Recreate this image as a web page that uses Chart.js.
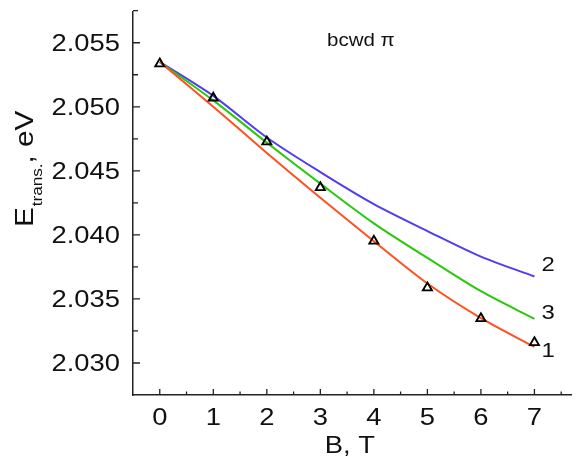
<!DOCTYPE html>
<html lang="en">

<head>
    <meta charset="UTF-8">
    <title>bcwd pi transition energy</title>
    <script src="https://cdn.jsdelivr.net/npm/chart.js"></script>
    <style>
        body { margin: 0; background: #fff; }
    </style>
</head>

<body>
    <canvas id="myChart" width="579" height="456"></canvas>

    <script>
        // magnetic field, T
        const fieldB = [0, 1, 2, 3, 4, 5, 6, 7];
        // experiment (triangles)
        const expPoints = [2.05336, 2.05069, 2.04727, 2.04370, 2.03952, 2.03587, 2.03347, 2.03160];
        // calculated curves 1, 2, 3
        const curve1 = [2.05350, 2.05000, 2.04640, 2.04290, 2.03950, 2.03620, 2.03350, 2.03125];
        const curve2 = [2.05350, 2.05085, 2.04760, 2.04490, 2.04240, 2.04030, 2.03830, 2.03675];
        const curve3 = [2.05350, 2.05050, 2.04720, 2.04400, 2.04090, 2.03820, 2.03560, 2.03345];
        const curveLabels = ['1', '2', '3'];

        const yTicks = [2.030, 2.035, 2.040, 2.045, 2.050, 2.055];
        const xTicks = [0, 1, 2, 3, 4, 5, 6, 7];

        const FONT = '"Liberation Sans", Arial, sans-serif';
        const STRETCH = 1.14; // the original lettering is a bit wide

        function pts(ys) {
            return fieldB.map((b, i) => ({ x: b, y: ys[i] }));
        }

        function curveSet(ys, color) {
            return {
                data: pts(ys),
                borderColor: color,
                borderWidth: 2,
                pointRadius: 0,
                tension: 0.3,
                fill: false
            };
        }

        // text drawn a little wider than the font
        function wideText(ctx, txt, x, y, align) {
            let w = ctx.measureText(txt).width * STRETCH;
            let x0 = x;
            if (align === 'center') x0 = x - w / 2;
            if (align === 'right') x0 = x - w;
            ctx.save();
            ctx.translate(x0, y);
            ctx.scale(STRETCH, 1);
            ctx.textAlign = 'left';
            ctx.fillText(txt, 0, 0);
            ctx.restore();
            return w;
        }

        // inward ticks, tick labels, axis titles and the curve numbers
        const extras = {
            id: 'extras',
            afterDraw: (chart) => {
                const ctx = chart.ctx;
                const xs = chart.scales.x;
                const ys = chart.scales.y;
                const area = chart.chartArea;
                ctx.save();
                ctx.strokeStyle = '#222';
                ctx.lineWidth = 1.3;
                ctx.beginPath();
                yTicks.forEach((v) => {
                    let p = ys.getPixelForValue(v);
                    ctx.moveTo(area.left, p);
                    ctx.lineTo(area.left + 7, p);
                    let m = ys.getPixelForValue(v + 0.0025);
                    ctx.moveTo(area.left, m);
                    ctx.lineTo(area.left + 5, m);
                });
                xTicks.forEach((v) => {
                    let p = xs.getPixelForValue(v);
                    ctx.moveTo(p, area.bottom);
                    ctx.lineTo(p, area.bottom - 6);
                    let m = xs.getPixelForValue(v + 0.5);
                    ctx.moveTo(m, area.bottom);
                    ctx.lineTo(m, area.bottom - 3.5);
                });
                ctx.stroke();

                ctx.fillStyle = '#111';
                ctx.textBaseline = 'alphabetic';

                // tick labels
                ctx.font = '24px ' + FONT;
                yTicks.forEach((v) => {
                    wideText(ctx, v.toFixed(3), area.left - 13, ys.getPixelForValue(v) + 8.5, 'right');
                });
                xTicks.forEach((v) => {
                    wideText(ctx, String(v), xs.getPixelForValue(v), area.bottom + 30, 'center');
                });

                // x title
                ctx.font = '24px ' + FONT;
                wideText(ctx, 'B, T', xs.getPixelForValue(3.55), 453, 'center');

                // y title with subscript
                ctx.save();
                ctx.translate(33, 227);
                ctx.rotate(-Math.PI / 2);
                ctx.font = '26px ' + FONT;
                let w = wideText(ctx, 'E', 0, 0, 'left');
                ctx.font = '15px ' + FONT;
                w += 1;
                w += wideText(ctx, 'trans.', w, 9, 'left');
                ctx.font = '26px ' + FONT;
                wideText(ctx, ', eV', w, 0, 'left');
                ctx.restore();

                // label inside plot
                ctx.font = '18px ' + FONT;
                wideText(ctx, 'bcwd \u03c0', 327, 46, 'left');

                // curve numbers at the right ends
                ctx.font = '21px ' + FONT;
                const ends = [curve1, curve2, curve3];
                const shift = [10, -6, 0];
                ends.forEach((c, i) => {
                    let x = xs.getPixelForValue(fieldB[fieldB.length - 1]) + 7;
                    let y = ys.getPixelForValue(c[c.length - 1]) + shift[i];
                    wideText(ctx, curveLabels[i], x, y, 'left');
                });
                ctx.restore();
            }
        };

        const config = {
            type: 'line',
            data: {
                datasets: [
                    {
                        data: pts(expPoints),
                        showLine: false,
                        pointStyle: 'triangle',
                        pointRadius: 5.2,
                        borderColor: '#000',
                        backgroundColor: 'rgba(255,255,255,0)',
                        pointBorderWidth: 1.9
                    },
                    curveSet(curve1, 'rgb(255,80,30)'),
                    curveSet(curve3, 'rgb(40,200,10)'),
                    curveSet(curve2, 'rgb(80,60,245)')
                ]
            },
            options: {
                responsive: false,
                animation: false,
                layout: { padding: { top: 12, right: 0, left: 0, bottom: 0 } },
                plugins: {
                    legend: { display: false },
                    tooltip: { enabled: false }
                },
                scales: {
                    x: {
                        type: 'linear',
                        min: -0.5,
                        max: 7.7,
                        afterFit: (scale) => { scale.height = 61; },
                        afterBuildTicks: (scale) => { scale.ticks = xTicks.map(v => ({ value: v })); },
                        grid: { color: 'rgba(0,0,0,0)', drawTicks: false },
                        border: { display: true, color: '#222', width: 1.5 },
                        ticks: { display: false }
                    },
                    y: {
                        min: 2.0275,
                        max: 2.0574,
                        afterFit: (scale) => { scale.width = 133; },
                        afterBuildTicks: (scale) => { scale.ticks = yTicks.map(v => ({ value: v })); },
                        grid: { color: 'rgba(0,0,0,0)', drawTicks: false },
                        border: { display: true, color: '#222', width: 1.5 },
                        ticks: { display: false }
                    }
                }
            },
            plugins: [extras]
        };

        var chart = new Chart(document.getElementById('myChart'), config);
    </script>
</body>

</html>
